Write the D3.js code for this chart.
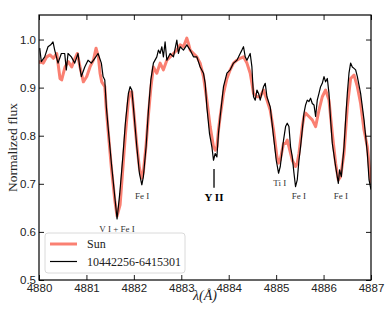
<!DOCTYPE html>
<html>
<head>
<meta charset="utf-8">
<script src="https://cdn.jsdelivr.net/npm/d3@7"></script>
<style>
  body { margin: 0; background: #fff; }
  svg { font-family: "Liberation Serif", "DejaVu Serif", serif; }
</style>
</head>
<body>
<div id="chart"></div>
<script>
// wavelengths (A) and normalized flux
var starWave = [4880.015,4880.049,4880.120,4880.190,4880.247,4880.295,4880.331,4880.401,4880.471,4880.542,4880.576,4880.612,4880.682,4880.753,4880.823,4880.859,4880.893,4880.965,4881.034,4881.104,4881.176,4881.245,4881.315,4881.351,4881.387,4881.420,4881.456,4881.526,4881.598,4881.646,4881.703,4881.773,4881.821,4881.885,4881.921,4881.957,4881.990,4882.062,4882.117,4882.168,4882.201,4882.258,4882.307,4882.358,4882.412,4882.484,4882.518,4882.554,4882.590,4882.623,4882.659,4882.695,4882.765,4882.835,4882.906,4882.940,4882.976,4883.046,4883.117,4883.187,4883.257,4883.328,4883.398,4883.468,4883.504,4883.539,4883.594,4883.645,4883.679,4883.715,4883.751,4883.784,4883.820,4883.890,4883.962,4884.031,4884.101,4884.173,4884.242,4884.278,4884.312,4884.348,4884.384,4884.453,4884.489,4884.523,4884.559,4884.595,4884.629,4884.664,4884.734,4884.770,4884.806,4884.875,4884.945,4885.002,4885.051,4885.087,4885.156,4885.199,4885.234,4885.270,4885.304,4885.340,4885.376,4885.409,4885.445,4885.481,4885.515,4885.587,4885.621,4885.656,4885.692,4885.726,4885.762,4885.798,4885.832,4885.867,4885.903,4885.937,4885.973,4886.009,4886.043,4886.079,4886.114,4886.148,4886.184,4886.254,4886.311,4886.338,4886.374,4886.431,4886.465,4886.501,4886.536,4886.570,4886.606,4886.642,4886.676,4886.712,4886.781,4886.853,4886.923,4886.959,4887.000];
var starFlux = [0.982,0.954,0.964,0.985,0.989,0.995,0.978,0.951,0.971,0.971,0.937,0.971,0.964,0.951,0.971,0.943,0.923,0.943,0.957,0.951,0.961,0.971,0.951,0.923,0.916,0.860,0.819,0.743,0.673,0.627,0.680,0.763,0.826,0.888,0.902,0.895,0.860,0.777,0.722,0.698,0.715,0.777,0.853,0.916,0.951,0.964,0.978,0.971,0.985,0.964,0.995,0.957,0.971,0.964,0.999,0.971,0.985,0.978,0.989,0.978,0.964,0.964,0.943,0.930,0.909,0.860,0.805,0.777,0.749,0.763,0.756,0.805,0.840,0.902,0.930,0.937,0.951,0.957,0.971,0.978,0.985,0.964,0.957,0.971,0.943,0.881,0.874,0.895,0.888,0.874,0.902,0.909,0.881,0.860,0.798,0.749,0.722,0.736,0.791,0.819,0.826,0.819,0.777,0.756,0.722,0.694,0.708,0.749,0.777,0.847,0.864,0.874,0.871,0.878,0.867,0.864,0.840,0.874,0.888,0.902,0.909,0.923,0.912,0.919,0.888,0.833,0.784,0.736,0.701,0.729,0.715,0.777,0.833,0.888,0.930,0.951,0.943,0.940,0.937,0.923,0.888,0.833,0.763,0.708,0.688];

var sunWave = [4880.000,4880.021,4880.091,4880.163,4880.232,4880.302,4880.374,4880.443,4880.479,4880.549,4880.618,4880.690,4880.760,4880.808,4880.865,4880.935,4881.007,4881.076,4881.146,4881.203,4881.252,4881.287,4881.323,4881.387,4881.420,4881.456,4881.526,4881.598,4881.646,4881.710,4881.773,4881.821,4881.885,4881.921,4881.957,4881.990,4882.062,4882.117,4882.168,4882.201,4882.258,4882.307,4882.358,4882.412,4882.484,4882.554,4882.623,4882.695,4882.765,4882.835,4882.906,4882.976,4883.046,4883.117,4883.151,4883.187,4883.257,4883.328,4883.398,4883.468,4883.539,4883.609,4883.679,4883.715,4883.751,4883.784,4883.820,4883.890,4883.962,4884.031,4884.101,4884.173,4884.242,4884.312,4884.384,4884.453,4884.489,4884.523,4884.595,4884.664,4884.734,4884.806,4884.875,4884.945,4885.017,4885.051,4885.087,4885.156,4885.199,4885.234,4885.270,4885.340,4885.409,4885.445,4885.481,4885.551,4885.587,4885.621,4885.692,4885.762,4885.832,4885.903,4885.973,4886.043,4886.114,4886.184,4886.254,4886.311,4886.359,4886.431,4886.501,4886.570,4886.642,4886.712,4886.781,4886.853,4886.923,4887.000];
var sunFlux = [0.950,0.954,0.951,0.964,0.968,0.961,0.971,0.919,0.916,0.943,0.954,0.943,0.961,0.971,0.943,0.912,0.923,0.943,0.957,0.982,0.964,0.930,0.912,0.902,0.853,0.812,0.733,0.666,0.633,0.656,0.739,0.801,0.874,0.891,0.891,0.858,0.781,0.733,0.712,0.725,0.781,0.843,0.899,0.943,0.930,0.951,0.937,0.957,0.964,0.971,0.978,0.989,0.985,1.003,0.992,0.978,0.971,0.964,0.951,0.923,0.874,0.819,0.777,0.770,0.777,0.812,0.840,0.888,0.919,0.937,0.951,0.957,0.961,0.964,0.951,0.930,0.909,0.888,0.881,0.881,0.895,0.874,0.853,0.812,0.756,0.743,0.750,0.784,0.784,0.791,0.777,0.749,0.736,0.743,0.763,0.819,0.840,0.847,0.840,0.833,0.819,0.853,0.881,0.895,0.874,0.805,0.743,0.708,0.715,0.763,0.860,0.919,0.926,0.902,0.867,0.812,0.777,0.700];

var xTicks = [4880, 4881, 4882, 4883, 4884, 4885, 4886, 4887];
var yTicks = [0.5, 0.6, 0.7, 0.8, 0.9, 1.0];

// line identifications: label, wavelength, flux where the label sits
var lineIds = [
  {name: "V I + Fe I", wave: 4881.646, flux: 0.606},
  {name: "Fe I", wave: 4882.174, flux: 0.675},
  {name: "Ti I", wave: 4885.076, flux: 0.701},
  {name: "Fe I", wave: 4885.481, flux: 0.675},
  {name: "Fe I", wave: 4886.364, flux: 0.675}
];
var yII = {name: "Y II", wave: 4883.69, flux: 0.673, top: 0.731, bottom: 0.692};

var W = 390, H = 312;
var margin = {top: 15, right: 19, bottom: 32, left: 39};
var iw = W - margin.left - margin.right,
    ih = H - margin.top - margin.bottom;

var svg = d3.select("#chart").append("svg")
    .attr("width", W)
    .attr("height", H);

var g = svg.append("g")
    .attr("transform", "translate(" + margin.left + "," + margin.top + ")");

var x = d3.scaleLinear().domain([4880, 4887]).range([0, iw]);
var y = d3.scaleLinear().domain([0.5, 1.051]).range([ih, 0]);

svg.append("defs").append("clipPath").attr("id", "plotclip")
  .append("rect").attr("width", iw).attr("height", ih);

var line = d3.line()
    .x(function(d) { return x(d[0]); })
    .y(function(d) { return y(d[1]); });

var sunData = sunWave.map(function(w, i) { return [w, sunFlux[i]]; });
var starData = starWave.map(function(w, i) { return [w, starFlux[i]]; });

var plot = g.append("g").attr("clip-path", "url(#plotclip)");
plot.append("path")
    .datum(sunData)
    .attr("d", line)
    .attr("fill", "none")
    .attr("stroke", "#fa8072")
    .attr("stroke-width", 3)
    .attr("stroke-linejoin", "round");
plot.append("path")
    .datum(starData)
    .attr("d", line)
    .attr("fill", "none")
    .attr("stroke", "#000")
    .attr("stroke-width", 1.2)
    .attr("stroke-linejoin", "round");

// axes, ticks pointing inward on all four sides
var tickLen = 5;
function styleAxis(sel) {
  sel.select(".domain").remove();
  sel.selectAll(".tick line").attr("stroke", "#000").attr("stroke-width", 0.9);
  sel.selectAll(".tick text").attr("fill", "#222").style("font-size", "11.5px");
}
g.append("g")
    .attr("transform", "translate(0," + ih + ")")
    .call(d3.axisBottom(x).tickValues(xTicks).tickFormat(d3.format("d"))
      .tickSizeInner(-tickLen).tickSizeOuter(0).tickPadding(3.5))
    .call(styleAxis);
g.append("g")
    .call(d3.axisTop(x).tickValues(xTicks).tickFormat("")
      .tickSizeInner(-tickLen).tickSizeOuter(0))
    .call(styleAxis);
g.append("g")
    .call(d3.axisLeft(y).tickValues(yTicks).tickFormat(d3.format(".1f"))
      .tickSizeInner(-tickLen).tickSizeOuter(0).tickPadding(3))
    .call(styleAxis);
g.append("g")
    .attr("transform", "translate(" + iw + ",0)")
    .call(d3.axisRight(y).tickValues(yTicks).tickFormat("")
      .tickSizeInner(-tickLen).tickSizeOuter(0))
    .call(styleAxis);

g.append("rect")
    .attr("width", iw)
    .attr("height", ih)
    .attr("fill", "none")
    .attr("stroke", "#000")
    .attr("stroke-width", 1.2);

// line labels
g.selectAll(".lineid")
    .data(lineIds)
  .enter().append("text")
    .attr("class", "lineid")
    .attr("x", function(d) { return x(d.wave); })
    .attr("y", function(d) { return y(d.flux); })
    .attr("text-anchor", "middle")
    .attr("dominant-baseline", "central")
    .attr("fill", "#333")
    .style("font-size", "9px")
    .text(function(d) { return d.name; });

g.append("line")
    .attr("x1", x(yII.wave)).attr("x2", x(yII.wave))
    .attr("y1", y(yII.top)).attr("y2", y(yII.bottom))
    .attr("stroke", "#000")
    .attr("stroke-width", 1.3);
g.append("text")
    .attr("x", x(yII.wave))
    .attr("y", y(yII.flux))
    .attr("text-anchor", "middle")
    .attr("dominant-baseline", "central")
    .attr("font-weight", "bold")
    .style("font-size", "11px")
    .text(yII.name);

// legend
var legend = g.append("g").attr("transform", "translate(6," + (ih - 47) + ")");
legend.append("rect")
    .attr("width", 140)
    .attr("height", 40)
    .attr("rx", 3)
    .attr("fill", "#fff")
    .attr("fill-opacity", 0.8)
    .attr("stroke", "#d0d0d0")
    .attr("stroke-width", 0.8);
var entries = [{label: "Sun", color: "#fa8072", width: 3}, {label: "10442256-6415301", color: "#000", width: 1.2}];
var le = legend.selectAll(".entry")
    .data(entries)
  .enter().append("g")
    .attr("transform", function(d, i) { return "translate(0," + (11 + i * 17.5) + ")"; });
le.append("line")
    .attr("x1", 5).attr("x2", 32)
    .attr("stroke", function(d) { return d.color; })
    .attr("stroke-width", function(d) { return d.width; });
le.append("text")
    .attr("x", 42)
    .attr("dominant-baseline", "central")
    .attr("fill", "#222")
    .style("font-size", "12px")
    .text(function(d) { return d.label; });

// axis titles
svg.append("text")
    .attr("transform", "translate(12," + (margin.top + ih / 2) + ") rotate(-90)")
    .attr("text-anchor", "middle")
    .attr("dominant-baseline", "central")
    .attr("fill", "#222")
    .style("font-size", "13.5px")
    .text("Normalized flux");
svg.append("text")
    .attr("x", margin.left + iw / 2)
    .attr("y", 300)
    .attr("text-anchor", "middle")
    .attr("fill", "#222")
    .style("font-size", "14px")
    .style("font-style", "italic")
    .text("λ(Å)");
</script>
</body>
</html>
